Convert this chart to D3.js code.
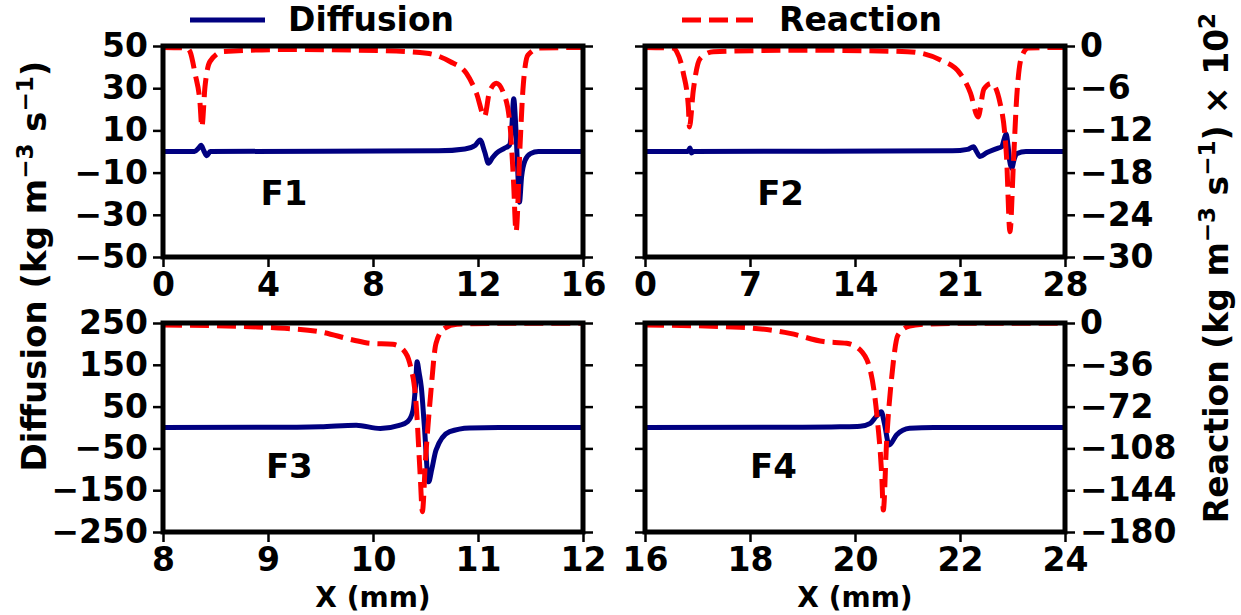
<!DOCTYPE html>
<html>
<head>
<meta charset="utf-8">
<script src="https://cdn.jsdelivr.net/npm/d3@7"></script>
<style>
  html, body { margin: 0; padding: 0; background: #fff; }
  svg { display: block; font-family: "DejaVu Sans", sans-serif; font-weight: bold; }
</style>
</head>
<body>
<svg id="chart" width="1241" height="615"></svg>
<script>
// ---------------- DATA ----------------
const panelNames = ["F1", "F2", "F3", "F4"];

// x-axis domains and ticks (mm)
const xDomains = [[0, 16], [0, 28], [8, 12], [16, 24]];
const xTicks = [[0, 4, 8, 12, 16], [0, 7, 14, 21, 28], [8, 9, 10, 11, 12], [16, 18, 20, 22, 24]];

// Diffusion axis (left) domains and ticks
const diffDomains = [[-50, 50], [-50, 50], [-250, 250], [-250, 250]];
const diffTicks = [[50, 30, 10, -10, -30, -50], [50, 30, 10, -10, -30, -50],
                   [250, 150, 50, -50, -150, -250], [250, 150, 50, -50, -150, -250]];

// Reaction axis (right, x 10^2) domains and ticks
const reacDomains = [[-30, 0], [-30, 0], [-180, 0], [-180, 0]];
const reacTicks = [[0, -6, -12, -18, -24, -30], [0, -6, -12, -18, -24, -30],
                   [0, -36, -72, -108, -144, -180], [0, -36, -72, -108, -144, -180]];

// F1 diffusion
const f1DiffX = [0, 1.2, 1.35, 1.45, 1.55, 1.67, 1.8, 10.5, 11.5, 11.9, 12.08, 12.25, 12.4, 12.55, 12.7, 13.0, 13.2, 13.28, 13.36, 13.43, 13.5, 13.58, 13.66, 13.8, 14.0, 14.3, 16];
const f1Diff  = [0, 0, 1.5, 3, 0.5, -2, 0, 0.3, 1.2, 3, 5.5, 0, -5.6, -3, -0.8, 1.5, 3, 10, 25, 14, -5, -24, -12, -4, -1, 0, 0];
// F1 reaction
const f1ReacX = [0, 0.9, 1.03, 1.22, 1.41, 1.48, 1.6, 1.79, 2.3, 4.6, 8.4, 10.05, 10.93, 11.56, 11.94, 12.25, 12.44, 12.7, 12.95, 13.2, 13.35, 13.45, 13.6, 13.71, 13.9, 14.35, 16];
const f1Reac  = [-0.2, -0.3, -0.8, -3.9, -8.1, -11.5, -5.8, -2.2, -0.8, -0.5, -0.67, -1.04, -2.2, -3.9, -6.7, -10, -6.5, -5.3, -6.5, -10.5, -19, -26.4, -14.3, -6.3, -1.3, -0.3, -0.2];

// F2 diffusion
const f2DiffX = [0, 2.85, 3.0, 3.1, 3.25, 20.5, 21.5, 21.9, 22.1, 22.33, 22.8, 23.5, 23.78, 23.95, 24.07, 24.2, 24.3, 24.45, 24.6, 24.78, 25.4, 28];
const f2Diff  = [0, 0, 1.7, -0.7, 0, 0.3, 1, 2.3, 0, -2.4, -0.5, 1.5, 2.3, 6, 8.3, 3, -4, -8, -4, -1, 0, 0];
// F2 reaction
const f2ReacX = [0, 1.9, 2.11, 2.56, 2.89, 2.96, 3.22, 3.67, 4.56, 10.8, 17.5, 19.7, 21.0, 21.7, 22.2, 22.6, 23.1, 23.67, 24.1, 24.33, 24.56, 24.78, 25.1, 25.56, 28];
const f2Reac  = [-0.2, -0.3, -0.8, -3.9, -8.6, -11.5, -6.3, -1.8, -0.8, -0.6, -0.8, -2.0, -3.9, -6.7, -10.1, -6.1, -5.3, -8.1, -15.7, -26.4, -16.7, -7.3, -1.6, -0.3, -0.2];

// F3 diffusion
const f3DiffX = [8, 9.0, 9.5, 9.84, 10.07, 10.25, 10.33, 10.38, 10.405, 10.42, 10.44, 10.46, 10.49, 10.53, 10.56, 10.6, 10.73, 10.92, 11.2, 12];
const f3Diff  = [0, 0.5, 2, 5.6, -2.4, 5, 14, 40, 100, 157, 130, 97, 0, -130, -100, -54, -10, -1, 0, 0];
// F3 reaction
const f3ReacX = [8, 8.83, 9.16, 9.49, 9.81, 9.97, 10.19, 10.29, 10.35, 10.41, 10.45, 10.47, 10.5, 10.55, 10.6, 10.68, 10.8, 11.2, 12];
const f3Reac  = [-1.7, -3.2, -4.6, -7.5, -14.6, -17.5, -18.4, -23.3, -34.7, -69, -132, -162.5, -118, -60.5, -17.5, -4.6, -1, -0.3, -0.2];

// F4 diffusion
const f4DiffX = [16, 19.0, 19.71, 20.1, 20.29, 20.4, 20.5, 20.56, 20.65, 20.79, 21.04, 21.5, 24];
const f4Diff  = [0, 0.5, 1.5, 3, 10, 26, 37.7, 10, -41.9, -18, -2, 0, 0];
// F4 reaction
const f4ReacX = [16, 17.8, 18.76, 19.4, 19.84, 20.1, 20.29, 20.42, 20.51, 20.54, 20.6, 20.7, 20.82, 21.04, 21.36, 22, 24];
const f4Reac  = [-1.7, -3.7, -8.9, -16, -17.5, -23.3, -40.5, -80.7, -132, -161, -103.6, -46.2, -10.3, -2.6, -1, -0.3, -0.2];

const diffSeriesX = [f1DiffX, f2DiffX, f3DiffX, f4DiffX];
const diffSeries  = [f1Diff, f2Diff, f3Diff, f4Diff];
const reacSeriesX = [f1ReacX, f2ReacX, f3ReacX, f4ReacX];
const reacSeries  = [f1Reac, f2Reac, f3Reac, f4Reac];

const legendLabels = ["Diffusion", "Reaction"];
const xAxisLabel = "X (mm)";

// ---------------- LAYOUT ----------------
const boxes = [
  {l: 163, r: 583, t: 46, b: 257},
  {l: 645, r: 1065, t: 46, b: 257},
  {l: 163, r: 583, t: 323, b: 532},
  {l: 645, r: 1065, t: 323, b: 532}
];
const labelPos = [[0.232, 0.754], [0.267, 0.754], [0.245, 0.742], [0.25, 0.742]];
const NAVY = "#000080", RED = "#ff0000";
const FS = 33;

const svg = d3.select("#chart");
const fmt = d => d < 0 ? "\u2212" + Math.abs(d) : String(d);

function styleAxis(g, showLabels) {
  g.select(".domain").remove();
  g.selectAll(".tick line").attr("stroke", "#000").attr("stroke-width", 2.5);
  g.selectAll(".tick text").attr("fill", "#000")
    .style("font-size", FS + "px").style("font-weight", "bold")
    .style("font-family", "'DejaVu Sans', sans-serif");
  if (!showLabels) g.selectAll(".tick text").remove();
}

boxes.forEach((bx, i) => {
  const x = d3.scaleLinear().domain(xDomains[i]).range([bx.l, bx.r]);
  const yD = d3.scaleLinear().domain(diffDomains[i]).range([bx.b, bx.t]);
  const yR = d3.scaleLinear().domain(reacDomains[i]).range([bx.b, bx.t]);

  const clipId = "clip" + i;
  svg.append("clipPath").attr("id", clipId)
    .append("rect").attr("x", bx.l).attr("y", bx.t).attr("width", bx.r - bx.l).attr("height", bx.b - bx.t);

  const gPlot = svg.append("g").attr("clip-path", `url(#${clipId})`);

  const diffLine = d3.line().x(d => x(d[0])).y(d => yD(d[1])).curve(d3.curveMonotoneX);
  const reacLine = d3.line().x(d => x(d[0])).y(d => yR(d[1])).curve(d3.curveMonotoneX);

  const dData = diffSeriesX[i].map((v, k) => [v, diffSeries[i][k]]);
  const rData = reacSeriesX[i].map((v, k) => [v, reacSeries[i][k]]);

  gPlot.append("path").attr("d", diffLine(dData))
    .attr("fill", "none").attr("stroke", NAVY).attr("stroke-width", 5)
    .attr("stroke-linejoin", "round").attr("stroke-linecap", "square");
  gPlot.append("path").attr("d", reacLine(rData))
    .attr("fill", "none").attr("stroke", RED).attr("stroke-width", 5)
    .attr("stroke-dasharray", "19 8")
    .attr("stroke-linejoin", "round").attr("stroke-linecap", "butt");

  // axes
  const isLeftCol = (i % 2 === 0);
  const gx = svg.append("g").attr("transform", `translate(0,${bx.b})`)
    .call(d3.axisBottom(x).tickValues(xTicks[i]).tickFormat(fmt).tickSize(10).tickPadding(6));
  styleAxis(gx, true);

  const gl = svg.append("g").attr("transform", `translate(${bx.l},0)`)
    .call(d3.axisLeft(yD).tickValues(diffTicks[i]).tickFormat(fmt).tickSize(10).tickPadding(5));
  styleAxis(gl, isLeftCol);

  const gr = svg.append("g").attr("transform", `translate(${bx.r},0)`)
    .call(d3.axisRight(yR).tickValues(reacTicks[i]).tickFormat(fmt).tickSize(10).tickPadding(5));
  styleAxis(gr, !isLeftCol);

  // spines
  svg.append("rect").attr("x", bx.l).attr("y", bx.t)
    .attr("width", bx.r - bx.l).attr("height", bx.b - bx.t)
    .attr("fill", "none").attr("stroke", "#000").attr("stroke-width", 5);

  // panel label
  svg.append("text")
    .attr("x", bx.l + labelPos[i][0] * (bx.r - bx.l))
    .attr("y", bx.t + labelPos[i][1] * (bx.b - bx.t))
    .attr("font-size", 34).attr("fill", "#000")
    .text(panelNames[i]);
});

// x-axis labels under bottom panels
[boxes[2], boxes[3]].forEach(bx => {
  svg.append("text").attr("x", (bx.l + bx.r) / 2).attr("y", 607)
    .attr("text-anchor", "middle").attr("font-size", 28).attr("fill", "#000")
    .text(xAxisLabel);
});

// y-axis labels
function unitLabel(sel, prefix, suffixParts) {
  sel.append("tspan").text(prefix + " (kg m");
  sel.append("tspan").attr("dy", -13).attr("font-size", 23).text("\u22123");
  sel.append("tspan").attr("dy", 13).text(" s");
  sel.append("tspan").attr("dy", -13).attr("font-size", 23).text("\u22121");
  sel.append("tspan").attr("dy", 13).text(")");
  if (suffixParts) {
    sel.append("tspan").text(" \u00d7 10");
    sel.append("tspan").attr("dy", -13).attr("font-size", 23).text("2");
  }
}
const yl = svg.append("text").attr("transform", "translate(46,266) rotate(-90)")
  .attr("text-anchor", "middle").attr("font-size", 34).attr("fill", "#000");
unitLabel(yl, "Diffusion", false);

const yr = svg.append("text").attr("transform", "translate(1228,268) rotate(-90)")
  .attr("text-anchor", "middle").attr("font-size", 33).attr("fill", "#000");
unitLabel(yr, "Reaction", true);

// legend
const legY = 20;
svg.append("line").attr("x1", 190).attr("x2", 265).attr("y1", legY).attr("y2", legY)
  .attr("stroke", NAVY).attr("stroke-width", 5);
svg.append("text").attr("x", 288).attr("y", 31).attr("font-size", FS).attr("fill", "#000").text(legendLabels[0]);
svg.append("line").attr("x1", 682).attr("x2", 753).attr("y1", legY).attr("y2", legY)
  .attr("stroke", RED).attr("stroke-width", 5).attr("stroke-dasharray", "19 8");
svg.append("text").attr("x", 779).attr("y", 31).attr("font-size", FS).attr("fill", "#000").text(legendLabels[1]);
</script>
</body>
</html>
